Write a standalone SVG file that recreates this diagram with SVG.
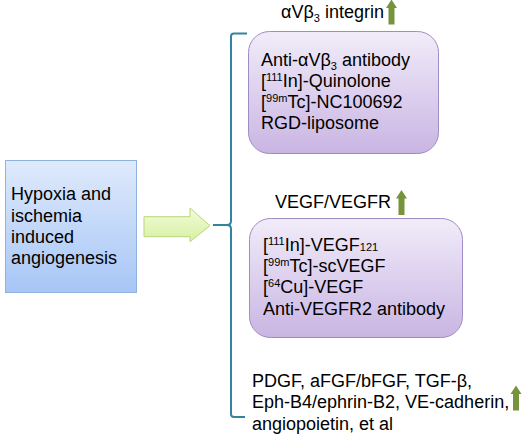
<svg xmlns="http://www.w3.org/2000/svg" width="528" height="436" viewBox="0 0 528 436">
<defs>
<linearGradient id="gBlue" x1="0" y1="0" x2="0" y2="1">
<stop offset="0" stop-color="#dfeafc"/>
<stop offset="1" stop-color="#a7c6f6"/>
</linearGradient>
<linearGradient id="gPurple" x1="0" y1="0" x2="0" y2="1">
<stop offset="0" stop-color="#f1ecf9"/>
<stop offset="1" stop-color="#c9b5e3"/>
</linearGradient>
<linearGradient id="gGreen" x1="0" y1="0" x2="0" y2="1">
<stop offset="0" stop-color="#f3fcd9"/>
<stop offset="1" stop-color="#d6f0a2"/>
</linearGradient>
<path id="up" d="M0 -12.5 L5.5 -4 L3 -4 L3 12.5 L-3 12.5 L-3 -4 L-5.5 -4 Z"/>
</defs>
<style>
text{font-family:"Liberation Sans",Arial,sans-serif;font-size:18px;fill:#000}
.sub{font-size:11px}
.up{fill:#77933c}
</style>
<rect width="528" height="436" fill="#fff"/>
<g id="source">
<rect x="5.5" y="160.5" width="131" height="132" fill="url(#gBlue)" stroke="#8fb2e0" stroke-width="1"/>
<text x="11" y="200">Hypoxia and</text>
<text x="11" y="222">ischemia</text>
<text x="11" y="243">induced</text>
<text x="11" y="264">angiogenesis</text>
</g>
<g id="connectors">
<path d="M144 216.7 L190 216.7 L190 208 L210 225.7 L190 241.7 L190 236.7 L144 236.7 Z" fill="url(#gGreen)" stroke="#b9d77f" stroke-width="1"/>
<path d="M247 33.5 L234 33.5 Q231 33.5 231 36.5 L231 221 Q231 225 227 225 L213 225 M227 225 Q231 225 231 229 L231 414 Q231 417 234 417 L245 417" fill="none" stroke="#31859c" stroke-width="2"/>
</g>
<g id="integrin">
<text x="281" y="18">αVβ<tspan class="sub" dy="4">3</tspan><tspan dy="-4"> integrin</tspan></text>
<use href="#up" class="up" x="391.5" y="12"/>
<rect x="248.5" y="31.5" width="190" height="122" rx="21" fill="url(#gPurple)" stroke="#a08bc6" stroke-width="1"/>
<text x="261" y="66">Anti-αVβ<tspan class="sub" dy="4">3</tspan><tspan dy="-4"> antibody</tspan></text>
<text x="261" y="87">[<tspan class="sub" dy="-6">111</tspan><tspan dy="6">In]-Quinolone</tspan></text>
<text x="261" y="108">[<tspan class="sub" dy="-6">99m</tspan><tspan dy="6">Tc]-NC100692</tspan></text>
<text x="261" y="129">RGD-liposome</text>
</g>
<g id="vegf">
<text x="275" y="208">VEGF/VEGFR</text>
<use href="#up" class="up" x="401.5" y="202.5"/>
<rect x="249.5" y="218.5" width="213" height="119" rx="21" fill="url(#gPurple)" stroke="#a08bc6" stroke-width="1"/>
<text x="263" y="251">[<tspan class="sub" dy="-6">111</tspan><tspan dy="6">In]-VEGF</tspan><tspan class="sub">121</tspan></text>
<text x="263" y="272">[<tspan class="sub" dy="-6">99m</tspan><tspan dy="6">Tc]-scVEGF</tspan></text>
<text x="263" y="293">[<tspan class="sub" dy="-6">64</tspan><tspan dy="6">Cu]-VEGF</tspan></text>
<text x="263" y="315">Anti-VEGFR2 antibody</text>
</g>
<g id="others">
<text x="252" y="387">PDGF, aFGF/bFGF, TGF-β,</text>
<text x="252" y="408">Eph-B4/ephrin-B2, VE-cadherin,</text>
<text x="252" y="430">angiopoietin, et al</text>
<use href="#up" class="up" x="516" y="398"/>
</g>
</svg>
